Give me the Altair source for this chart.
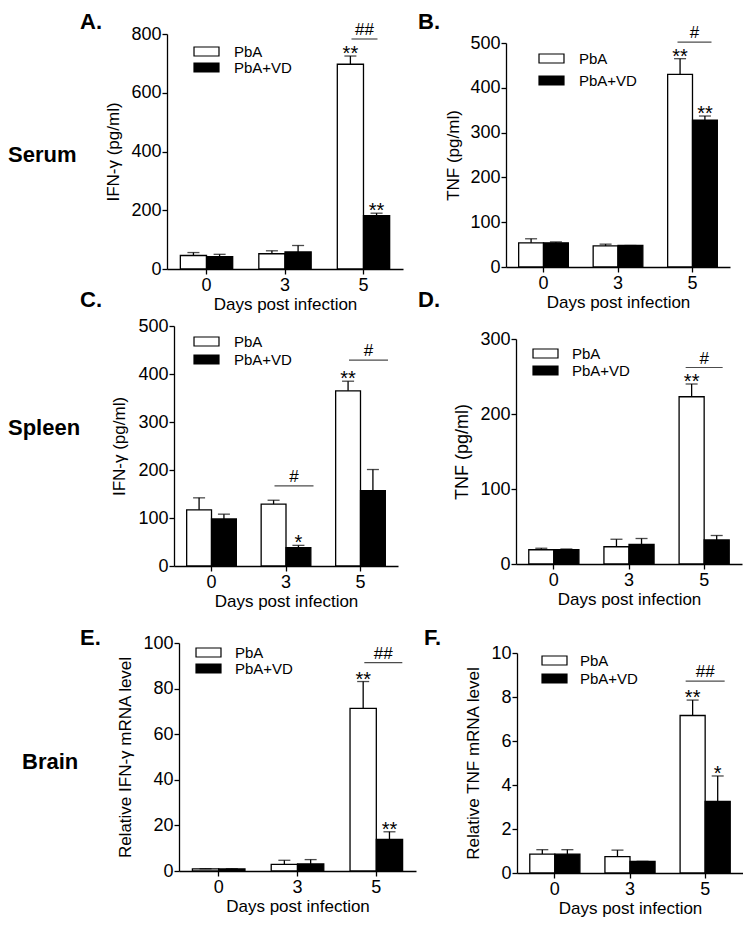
import altair as alt
import pandas as pd

days = ["0", "3", "5"]
groups = ["PbA", "PbA+VD"]
x_title = "Days post infection"

# A. Serum IFN-γ
a_pba = [46, 52, 697]
a_pba_err = [10, 10, 28]
a_vd = [42, 58, 182]
a_vd_err = [8, 22, 8]
a_pba_sig = ["", "", "**"]
a_vd_sig = ["", "", "**"]
a_hash_days = ["5"]
a_hash_text = ["##"]
a_hash_level = [783]
a_ticks = [0, 200, 400, 600, 800]

# B. Serum TNF
b_pba = [54, 47, 430]
b_pba_err = [9, 4, 35]
b_vd = [54, 48, 328]
b_vd_err = [2, 0, 9]
b_pba_sig = ["", "", "**"]
b_vd_sig = ["", "", "**"]
b_hash_days = ["5"]
b_hash_text = ["#"]
b_hash_level = [502]
b_ticks = [0, 100, 200, 300, 400, 500]

# C. Spleen IFN-γ
c_pba = [117, 129, 365]
c_pba_err = [25, 8, 20]
c_vd = [98, 38, 157]
c_vd_err = [10, 5, 44]
c_pba_sig = ["", "", "**"]
c_vd_sig = ["", "*", ""]
c_hash_days = ["3", "5"]
c_hash_text = ["#", "#"]
c_hash_level = [167, 429]
c_ticks = [0, 100, 200, 300, 400, 500]

# D. Spleen TNF
d_pba = [19, 23, 223]
d_pba_err = [2, 10, 17]
d_vd = [19, 26, 32]
d_vd_err = [1, 8, 6]
d_pba_sig = ["", "", "**"]
d_vd_sig = ["", "", ""]
d_hash_days = ["5"]
d_hash_text = ["#"]
d_hash_level = [262]
d_ticks = [0, 100, 200, 300]

# E. Brain IFN-γ mRNA
e_pba = [0.9, 2.9, 71.3]
e_pba_err = [0.1, 1.8, 11.8]
e_vd = [0.9, 3.1, 13.9]
e_vd_err = [0.1, 1.9, 3.3]
e_pba_sig = ["", "", "**"]
e_vd_sig = ["", "", "**"]
e_hash_days = ["5"]
e_hash_text = ["##"]
e_hash_level = [91.4]
e_ticks = [0, 20, 40, 60, 80, 100]

# F. Brain TNF mRNA
f_pba = [0.86, 0.74, 7.16]
f_pba_err = [0.2, 0.3, 0.7]
f_vd = [0.86, 0.53, 3.26]
f_vd_err = [0.2, 0.0, 1.15]
f_pba_sig = ["", "", "**"]
f_vd_sig = ["", "", "*"]
f_hash_days = ["5"]
f_hash_text = ["##"]
f_hash_level = [8.72]
f_ticks = [0, 2, 4, 6, 8, 10]

row_labels = ["Serum", "Spleen", "Brain"]
panel_letters = ["A.", "B.", "C.", "D.", "E.", "F."]

FONT = "Liberation Sans"
LEG_SYMBOL = "M -2 -0.72 L 2 -0.72 L 2 0.72 L -2 0.72 Z"
W, H = 735, 914


def panel(pba, pba_err, vd, vd_err, pba_sig, vd_sig, h_days, h_text, h_level,
          ticks, ytitle, st):
    rows = []
    for i, d in enumerate(days):
        rows.append(dict(day=d, group=groups[0], mean=pba[i], top=pba[i] + pba_err[i], sig=pba_sig[i]))
        rows.append(dict(day=d, group=groups[1], mean=vd[i], top=vd[i] + vd_err[i], sig=vd_sig[i]))
    df = pd.DataFrame(rows)
    hdf = pd.DataFrame({"day": h_days, "label": h_text, "level": h_level})

    x0, x1, yt, yb = st["box"]
    xsc = alt.Scale(range=[x0, x1], paddingInner=0.333, paddingOuter=0.17)
    xax = alt.Axis(title=x_title, orient="bottom", offset=yb - H, labelAngle=0,
                   labelFontSize=18, titleFontSize=17, titleFontWeight="normal",
                   tickSize=5, labelPadding=2, titlePadding=2,
                   domainColor="black", tickColor="black", labelColor="black",
                   titleColor="black", domainWidth=1.3, tickWidth=1.3)
    X = alt.X("day:N", sort=days, scale=xsc, axis=xax)
    XO = alt.XOffset("group:N", sort=groups, scale=alt.Scale(paddingInner=0, paddingOuter=0))
    ysc = alt.Scale(domain=[ticks[0], ticks[-1]], range=[yb, yt], nice=False)
    yax = alt.Axis(title=ytitle, orient="left", offset=-x0, values=ticks,
                   labelFontSize=18, titleFontSize=st["ytf"], titleFontWeight="normal",
                   tickSize=5, labelPadding=1, titlePadding=st["ytp"], grid=False,
                   domainColor="black", tickColor="black", labelColor="black",
                   titleColor="black", domainWidth=1.3, tickWidth=1.3)

    legend = alt.Legend(title=None, orient="none", legendX=x0 + st["lx"], legendY=yt + st["ly"],
                        symbolType=LEG_SYMBOL, symbolSize=156, symbolStrokeColor="black",
                        symbolStrokeWidth=1.2, symbolOpacity=1, labelFontSize=15,
                        labelColor="black", labelOffset=st["lo"], rowPadding=st["rp"], padding=0)

    base = alt.Chart(df).encode(x=X, xOffset=XO)
    bars = base.mark_bar(stroke="black", strokeWidth=1.3).encode(
        y=alt.Y("mean:Q", scale=ysc, axis=yax),
        fill=alt.Fill("group:N", sort=groups,
                      scale=alt.Scale(domain=groups, range=["white", "black"]), legend=legend),
    )
    err = base.mark_rule(color="black", strokeWidth=1.3).encode(
        y=alt.Y("mean:Q", scale=ysc, axis=yax), y2="top:Q")
    cap = base.mark_tick(color="black", thickness=1.3, size=12).encode(
        y=alt.Y("top:Q", scale=ysc, axis=yax))
    stars = base.mark_text(fontSize=20, baseline="alphabetic", dy=4, color="black").encode(
        y=alt.Y("top:Q", scale=ysc, axis=yax), text="sig:N")
    hline = alt.Chart(hdf).mark_tick(color="black", thickness=1.2, size=st["hw"],
                                     xOffset=st["hx"]).encode(
        x=X, y=alt.Y("level:Q", scale=ysc, axis=yax))
    htext = alt.Chart(hdf).mark_text(fontSize=17, baseline="alphabetic", dy=-4,
                                     dx=st["hx"], color="black").encode(
        x=X, y=alt.Y("level:Q", scale=ysc, axis=yax), text="label:N")
    return alt.layer(bars, err, cap, stars, hline, htext)


def label(text, x, y, baseline):
    ldf = pd.DataFrame({"t": [text]})
    return alt.Chart(ldf).mark_text(fontSize=22, fontWeight="bold", align="left",
                                    baseline=baseline, color="black").encode(
        text="t:N", x=alt.value(x), y=alt.value(y))


A = panel(a_pba, a_pba_err, a_vd, a_vd_err, a_pba_sig, a_vd_sig, a_hash_days, a_hash_text,
          a_hash_level, a_ticks, "IFN-γ (pg/ml)",
          dict(box=(159, 395, 26, 261), ytf=17, ytp=8, lx=32, ly=10, lo=20, rp=0, hw=26, hx=1))
B = panel(b_pba, b_pba_err, b_vd, b_vd_err, b_pba_sig, b_vd_sig, b_hash_days, b_hash_text,
          b_hash_level, b_ticks, "TNF  (pg/ml)",
          dict(box=(498, 722, 35, 259), ytf=17, ytp=7, lx=38, ly=8, lo=20, rp=6, hw=34, hx=2))
C = panel(c_pba, c_pba_err, c_vd, c_vd_err, c_pba_sig, c_vd_sig, c_hash_days, c_hash_text,
          c_hash_level, c_ticks, "IFN-γ  (pg/ml)",
          dict(box=(166, 390, 318, 558), ytf=17, ytp=9, lx=25, ly=8, lo=20, rp=2, hw=39, hx=8))
D = panel(d_pba, d_pba_err, d_vd, d_vd_err, d_pba_sig, d_vd_sig, d_hash_days, d_hash_text,
          d_hash_level, d_ticks, "TNF  (pg/ml)",
          dict(box=(508, 734, 331, 556), ytf=18, ytp=8, lx=22, ly=7, lo=19, rp=1, hw=37, hx=0))
E = panel(e_pba, e_pba_err, e_vd, e_vd_err, e_pba_sig, e_vd_sig, e_hash_days, e_hash_text,
          e_hash_level, e_ticks, "Relative IFN-γ mRNA level",
          dict(box=(171, 408, 635, 863), ytf=17, ytp=8, lx=22, ly=2, lo=19, rp=0, hw=38, hx=7))
F = panel(f_pba, f_pba_err, f_vd, f_vd_err, f_pba_sig, f_vd_sig, f_hash_days, f_hash_text,
          f_hash_level, f_ticks, "Relative TNF mRNA level",
          dict(box=(509, 735, 645, 865), ytf=17, ytp=8, lx=30, ly=0, lo=18, rp=2, hw=39, hx=0))

texts = [
    label(row_labels[0], 0, 147, "middle"),
    label(row_labels[1], 0, 420, "middle"),
    label(row_labels[2], 14, 754, "middle"),
    label(panel_letters[0], 72, 21, "alphabetic"),
    label(panel_letters[1], 410, 21, "alphabetic"),
    label(panel_letters[2], 72, 299, "alphabetic"),
    label(panel_letters[3], 410, 299, "alphabetic"),
    label(panel_letters[4], 72, 637, "alphabetic"),
    label(panel_letters[5], 416, 637, "alphabetic"),
]

chart = alt.layer(A, B, C, D, E, F, *texts).resolve_scale(
    x="independent", y="independent", xOffset="independent", fill="independent"
).resolve_axis(x="independent", y="independent").resolve_legend(fill="independent").properties(
    width=W, height=H, padding=0
).configure(font=FONT).configure_view(stroke=None)

chart.save("out.html", embed_options={"renderer": "svg", "actions": False})
